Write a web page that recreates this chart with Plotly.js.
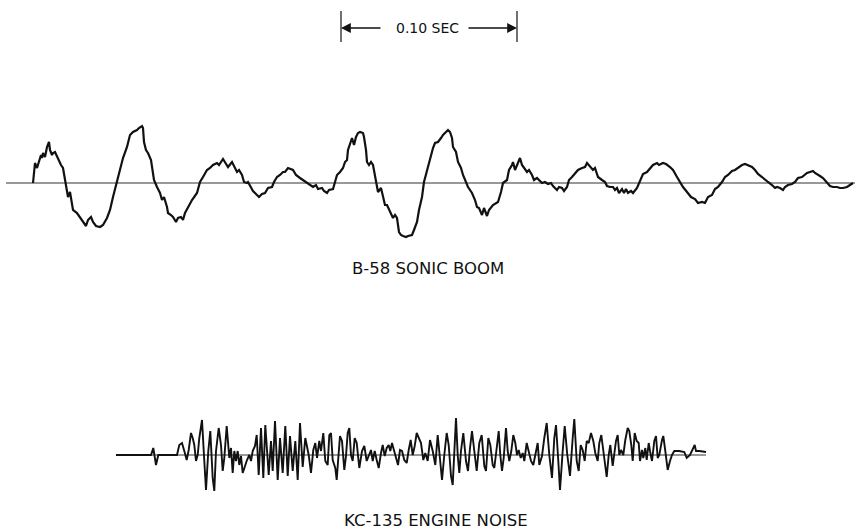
<!DOCTYPE html>
<html>
<head>
<meta charset="utf-8">
<script src="https://cdn.plot.ly/plotly-3.0.1.min.js"></script>
<style>
html,body{margin:0;padding:0;background:#fff;}
#chart{width:856px;height:531px;}
</style>
</head>
<body>
<div id="chart"></div>
<script>
// Time in samples (1 sample = 1/1760 s, so 176 samples = 0.10 s); pressure in relative units.
const boomT = [0,2,4,5,6,8,9,10,12,14,16,17,19,20,22,24,26,28,30,32,34,35,37,39,40,44,47,50,53,55,58,60,63,67,70,74,77,80,84,87,90,94,97,100,104,106,109,110,111,113,115,118,120,121,124,127,129,131,134,135,138,140,143,145,148,150,152,155,159,164,167,170,174,177,180,184,186,190,194,195,199,202,204,206,209,211,214,215,218,220,224,226,229,232,235,239,241,244,247,250,252,255,260,263,267,270,274,277,280,283,285,289,291,294,296,300,302,304,307,310,312,314,315,318,319,321,323,325,327,330,331,333,334,336,338,340,342,344,345,348,350,352,354,357,360,362,364,366,368,370,373,375,379,381,384,386,389,391,394,397,400,402,405,408,410,413,415,417,419,420,423,425,428,430,433,435,439,442,444,446,449,451,454,456,460,463,465,468,470,474,476,479,480,482,484,487,489,491,494,496,499,501,504,506,509,512,515,518,520,524,526,529,531,534,536,539,542,545,549,552,554,557,560,562,565,569,572,574,577,580,582,584,586,589,591,593,595,598,600,604,607,610,614,617,620,624,626,630,633,637,640,644,647,650,654,658,662,665,669,672,675,679,682,685,689,692,695,699,702,705,709,712,715,719,722,725,729,732,735,739,742,744,747,750,752,755,759,762,765,769,772,774,777,780,782,784,787,790,794,797,800,804,807,810,814,817,820];
const boomP = [0,2.0,1.5,1.8,2.1,2.8,2.5,3.0,2.6,3.6,4.1,3.3,2.8,3.0,3.1,2.6,2.3,1.8,1.5,0.3,-0.7,-1.4,-0.9,-1.9,-2.7,-3.0,-3.4,-3.9,-4.3,-3.7,-3.4,-3.9,-4.3,-4.4,-4.2,-3.5,-2.7,-1.4,0.1,1.3,2.5,3.6,4.8,5.1,5.3,5.5,5.7,5.5,4.1,3.3,3.0,2.3,1.0,0.3,-0.4,-1.0,-1.7,-1.4,-2.4,-3.0,-3.2,-3.4,-3.9,-3.5,-3.4,-3.7,-3.0,-2.4,-1.7,-1.0,0.1,0.6,1.3,1.5,1.8,2.0,1.8,2.4,1.8,1.6,2.1,1.5,1.1,1.3,0.8,0.1,0.0,0.1,-0.4,-0.8,-1.2,-1.4,-1.1,-1.0,-0.5,-0.4,0.1,0.6,0.8,1.1,1.1,1.5,1.3,0.8,0.5,0.3,0.0,-0.2,-0.4,-0.2,-0.6,-0.5,-0.8,-1.0,-0.7,-0.6,0.1,0.8,1.1,1.5,2.1,2.3,3.3,4.1,4.5,3.8,4.6,5.0,5.1,5.0,4.6,3.3,2.1,1.8,2.1,1.8,0.8,-0.2,-0.9,-0.5,-1.4,-2.2,-2.2,-2.9,-3.5,-3.2,-3.5,-4.9,-5.2,-5.3,-5.4,-5.3,-5.2,-4.7,-3.9,-2.7,-1.4,0.1,1.3,2.5,3.5,4.0,4.1,4.5,4.8,5.1,5.3,5.1,4.5,3.6,3.1,2.1,1.5,0.8,0.1,-0.4,-1.0,-1.7,-2.4,-2.5,-3.2,-2.5,-3.3,-2.7,-2.2,-2.0,-1.9,-0.9,0.0,0.3,1.3,1.8,2.1,1.3,1.8,2.5,1.8,1.5,1.1,1.3,0.8,0.3,0.5,0.3,0.0,0.1,-0.1,0.0,-0.3,-0.7,-0.4,-0.5,-0.8,-0.4,0.3,0.6,0.9,1.3,1.5,1.6,2.0,1.6,1.3,1.5,0.6,0.3,0.1,-0.3,-0.4,-0.4,-0.7,-0.5,-1.0,-0.6,-1.0,-0.6,-1.0,-0.8,-1.0,-0.5,0.3,0.9,1.1,1.5,1.8,2.0,1.8,2.0,1.9,1.6,1.3,0.6,0.1,-0.4,-0.9,-1.4,-1.6,-2.0,-1.9,-2.0,-1.4,-1.2,-0.6,-0.4,0.1,0.6,0.8,1.2,1.3,1.5,1.8,1.9,1.8,1.6,1.3,0.9,0.6,0.3,0.1,-0.2,-0.5,-0.4,-0.5,-0.7,-0.4,-0.2,-0.1,0.1,0.5,0.6,0.9,1.0,1.1,1.2,1.0,0.9,0.7,0.5,0.0,-0.3,-0.4,-0.4,-0.5,-0.5,-0.4,-0.2,0.0];
const boomBaseT = [-27, 822];

const noiseT = [83,118,120.3,123,125.3,144,146.3,149,151.3,153.7,155.7,158,159.7,161.3,163,164.7,166.3,169,171.3,173,175.3,177.3,179.7,181.3,183,185.7,188,189.7,191.3,193.7,196.3,198,199.7,201.3,203,204.7,206.3,208,209.7,212,214,216.3,218,219.7,222,223.7,225.7,228,230.3,232.3,235.7,238,239.7,242,244.7,247,249.7,252.3,254.7,257,259.7,262.3,264.7,267,269.7,272.3,275.7,278,280.3,282.3,284,286.3,288,290.3,292.3,294.7,296.3,298,299.7,302.3,303.7,305.3,307,309,311.3,313,314.7,316.3,318,319.7,321.7,323.7,326.3,329,331.3,333.7,335.7,338,339.7,341.7,343.7,345.7,348,349.7,351.7,353.7,355.7,357.3,359,361,363,365,367,369,371.3,373.7,375.7,377.7,379.7,381.7,383.7,385.7,388,390.3,392.3,394.7,397,399.7,402.3,404.7,407,409,411.3,413.7,415.7,418,419.7,421.3,423,424.7,426.3,428,430.3,433,435,437,439,441.3,443.7,446.3,448.7,451.3,453,455.3,457.3,459.7,461.3,463.7,465.7,467.3,469,470.7,473,474.7,476.3,478.3,480.3,482.3,484,485.7,487.7,489.7,491.3,493.7,495.7,498,500.3,502.3,504.7,506.3,509,511.3,513.7,516.3,519,521.3,523,525.3,527,529.7,531.7,534.3,537,539.7,541.3,543.7,545.7,547.7,549.7,551.7,553.7,555.7,558,560.3,562.3,564.7,566.3,568.3,570.3,572.3,573.7,575.7,577.3,579.7,581.3,583,584.7,586.3,588,590.3,592.3,594.7,596.3,598.3,599.7,601.7,603.7,605.7,607,609,610.3,612.3,613.7,615.7,617,619,621.3,623,624.7,626.3,629,630.3,632.3,634.7,637,639,641.3,646.3,651.3,653.7,657,659.7,661.7,663,666.3,673];
const noiseP = [0,0,0.7,-1.0,0,0,1.0,1.2,0.4,-0.5,0.5,2.2,1.7,1.0,-0.6,0.0,1.7,3.5,-0.6,-3.5,0.4,2.4,-2.3,-3.6,0.4,2.7,1.0,-1.6,-0.3,2.9,-0.3,0.7,-1.8,0.4,-0.6,0.4,-1.0,-0.1,-1.8,-1.0,-0.5,0.0,-0.6,0.4,0.9,2.0,-2.0,2.7,-2.3,3.0,-2.0,1.4,-1.6,3.4,-2.5,1.7,-1.8,2.9,-2.1,1.9,-1.6,1.4,-2.5,3.2,-1.2,1.7,0.0,-1.8,0.5,1.2,-0.3,1.4,0.4,2.2,-0.6,-1.0,2.0,2.2,-0.5,-1.3,-2.5,-0.3,1.9,1.4,-1.5,-0.1,2.2,2.7,0.0,-0.6,1.7,1.2,-1.3,0.4,0.9,-0.6,0.0,0.5,-0.6,0.4,-0.5,-1.3,0.2,1.0,-0.1,0.7,1.0,0.4,1.2,0.4,-0.1,-1.0,0.5,0.4,-0.5,-0.8,0.5,1.5,0.0,0.9,2.2,1.7,1.2,-0.5,0.2,-0.6,1.5,0.4,-1.0,2.0,-0.6,-2.5,0.0,2.2,1.0,-2.1,-3.0,0.4,3.7,0.0,-1.8,0.4,2.2,-0.6,-1.6,0.7,2.4,0.4,-1.6,1.2,2.0,-1.1,-1.6,1.7,1.0,-1.0,-1.3,0.7,2.4,0.0,-1.6,-0.3,2.7,0.4,-0.6,0.4,2.0,1.2,0.0,0.5,-0.3,0.2,-0.6,1.2,0.4,-0.6,-1.0,-0.1,1.2,-1.0,-0.1,1.7,3.2,0.0,-2.3,1.7,3.0,-0.6,-3.5,0.4,2.9,0.0,-2.1,1.7,3.6,-0.6,-1.6,1.0,0.5,-0.6,1.4,1.2,2.2,1.4,0.2,-0.6,1.2,2.0,0.4,-1.3,-2.2,0.0,1.0,-1.1,0.4,1.4,2.0,0.0,0.5,0.0,1.5,2.7,2.4,1.0,-0.6,2.2,1.4,1.2,-0.6,0.5,-0.3,0.7,-0.5,1.2,0.4,-0.6,1.4,1.9,-0.3,0.0,1.5,1.9,0.4,-1.5,-0.6,0.0,0.4,0.4,0.3,-0.3,0.0,0.5,1.0,0.4,0.4,0.3];
const noiseBaseT = [83, 673];

const SCALE_START = 308;      // samples
const SCALE_SPAN = 176;       // samples = 0.10 s
const labels = {scale: "0.10 SEC", boom: "B-58 SONIC BOOM", noise: "KC-135 ENGINE NOISE"};

const ink = "#111111";
const traces = [
  {x: boomBaseT, y: [0,0], mode: "lines", line: {color: "#333", width: 1}, yaxis: "y", hoverinfo: "skip"},
  {x: boomT, y: boomP, mode: "lines", line: {color: ink, width: 2.2}, yaxis: "y", hoverinfo: "skip"},
  {x: noiseBaseT, y: [0,0], mode: "lines", line: {color: "#333", width: 1}, yaxis: "y2", hoverinfo: "skip"},
  {x: noiseT, y: noiseP, mode: "lines", line: {color: ink, width: 1.9}, yaxis: "y2", hoverinfo: "skip"}
];

const H = 531;
const py = p => 1 - p / H; // paper fraction from top offset (layout only)
const sEnd = SCALE_START + SCALE_SPAN;
const font = {family: "DejaVu Sans, sans-serif", color: ink};

const layout = {
  width: 856, height: 531,
  margin: {l: 0, r: 0, t: 0, b: 0},
  paper_bgcolor: "#fff", plot_bgcolor: "#fff",
  showlegend: false,
  xaxis: {range: [-33, 823], visible: false, fixedrange: true},
  yaxis: {range: [-34.8, 18.3], visible: false, fixedrange: true},
  yaxis2: {range: [-7.6, 45.5], overlaying: "y", visible: false, fixedrange: true},
  shapes: [
    {type: "line", xref: "x", yref: "paper", x0: SCALE_START, x1: SCALE_START, y0: py(11), y1: py(42), line: {color: ink, width: 1.2}},
    {type: "line", xref: "x", yref: "paper", x0: sEnd, x1: sEnd, y0: py(11), y1: py(42), line: {color: ink, width: 1.2}}
  ],
  annotations: [
    {x: SCALE_START, y: py(28), xref: "x", yref: "paper", ax: SCALE_START + 41, ay: 0, axref: "x", ayref: "pixel",
     showarrow: true, arrowhead: 2, arrowsize: 1.4, arrowwidth: 1.4, arrowcolor: ink, text: ""},
    {x: sEnd, y: py(28), xref: "x", yref: "paper", ax: sEnd - 50, ay: 0, axref: "x", ayref: "pixel",
     showarrow: true, arrowhead: 2, arrowsize: 1.4, arrowwidth: 1.4, arrowcolor: ink, text: ""},
    {x: SCALE_START + SCALE_SPAN / 2 - 2, y: py(28), xref: "x", yref: "paper", xanchor: "center", yanchor: "middle", showarrow: false,
     text: labels.scale, font: Object.assign({size: 14}, font)},
    {x: 395, y: py(268), xref: "x", yref: "paper", xanchor: "center", yanchor: "middle", showarrow: false,
     text: labels.boom, font: Object.assign({size: 16.5}, font)},
    {x: 403, y: py(520), xref: "x", yref: "paper", xanchor: "center", yanchor: "middle", showarrow: false,
     text: labels.noise, font: Object.assign({size: 16.5}, font)}
  ]
};

Plotly.newPlot("chart", traces, layout, {staticPlot: true, displayModeBar: false});
</script>
</body>
</html>
